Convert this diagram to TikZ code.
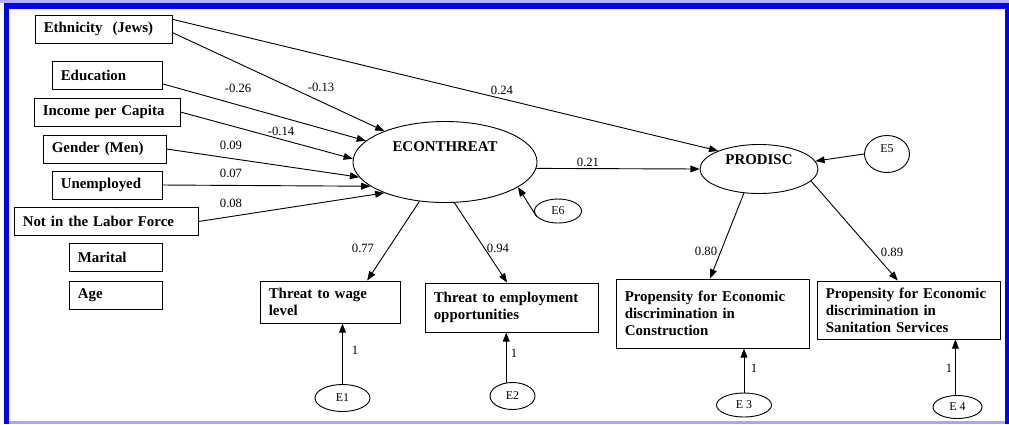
\documentclass[tikz,border=0pt]{standalone}
\usepackage{fontspec}
\setmainfont{Liberation Serif}
\usepackage{tikz}
\usetikzlibrary{arrows.meta, positioning, shapes.geometric}

\begin{document}
\begin{tikzpicture}[x=0.025cm, y=-0.025cm, line width=0.65pt,
    >={Triangle[length=0.23cm, width=0.17cm]}]
    % Default looks of boxes, ovals and coefficients
    \tikzstyle{obs}=[draw, rectangle, align=left, inner xsep=0.22cm, minimum height=0.7cm, font=\fontsize{10.6}{12.2}\selectfont\bfseries];
    \tikzstyle{lat}=[draw, ellipse, inner sep=0pt, font=\fontsize{10.6}{12.2}\selectfont\bfseries];
    \tikzstyle{err}=[draw, ellipse, inner sep=0pt, font=\fontsize{8.5}{10}\selectfont];
    \tikzstyle{coef}=[inner sep=0pt, font=\fontsize{9}{10}\selectfont];

    \useasboundingbox (0,0) rectangle (1009,424);
    % Frame
    \fill[blue!30] (0,0) rectangle (1009,3);
    \fill[blue] (4,3) rectangle (1009,9);
    \fill[blue] (4,3) rectangle (9,424);
    \fill[blue] (1005,3) rectangle (1009,424);
    \fill[blue!35] (9,421) rectangle (1005,424);

    % Define and draw the exogenous variables
    \node[obs, text width=2.985cm] (x1) at (103.5,29) {Ethnicity\ \ (Jews)};
    \node[obs, text width=2.31cm] (x2) at (107,75) {Education};
    \node[obs, text width=3.21cm] (x3) at (107,112) {Income per Capita};
    \node[obs, text width=2.635cm] (x4) at (104.5,149) {Gender (Men)};
    \node[obs, text width=2.31cm] (x5) at (107,185) {Unemployed};
    \node[obs, text width=4.16cm] (x6) at (106,221.5) {Not in the Labor Force};
    \node[obs, text width=1.885cm] (x7) at (115.5,257.5) {Marital};
    \node[obs, text width=1.885cm] (x8) [below=0.225cm of x7] {Age};

    % Latent factors
    \node[lat, minimum width=4.6cm, minimum height=2.025cm, text depth=0.75cm] (f1) at (445,162) {ECONTHREAT};
    \node[lat, minimum width=2.95cm, minimum height=1.225cm, text depth=0.45cm] (f2) at (759,169) {PRODISC};

    % Indicators
    \node[obs, text width=3.06cm, minimum height=1.05cm] (y1) at (330,302) {Threat to wage\\level};
    \node[obs, text width=3.885cm, minimum height=1.225cm] (y2) at (511.5,307.5) {Threat to employment\\opportunities};
    \node[obs, text width=4.385cm, minimum height=1.725cm] (y3) at (712.5,313.5) {Propensity for Economic\\discrimination in\\Construction};
    \node[obs, text width=4.135cm, minimum height=1.45cm] (y4) at (908.5,310) {Propensity for Economic\\discrimination in\\Sanitation Services};

    % Error terms
    \node[err, minimum width=1.375cm, minimum height=0.675cm] (e1) at (342.5,398) {E1};
    \node[err, minimum width=1.125cm, minimum height=0.675cm] (e2) at (512.5,396) {E2};
    \node[err, minimum width=1.375cm, minimum height=0.6cm] (e3) at (744,405) {E 3};
    \node[err, minimum width=1.225cm, minimum height=0.575cm] (e4) at (957.5,407) {E 4};
    \node[err, minimum width=1.125cm, minimum height=0.925cm, text depth=0.25cm] (e5) at (887,154) {E5};
    \node[err, minimum width=1.175cm, minimum height=0.6cm] (e6) at (558,211) {E6};

    % Draw the paths
    \draw[->] (x1.-3) -- (f1.153);
    \draw[->] (x1.8) -- (f2.156);
    \draw[->] (x2.-9) -- (f1.165);
    \draw[->] (x3.east) -- (f1.178);
    \draw[->] (x4.east) -- (f1.190);
    \draw[->] (x5.east) -- (f1.198);
    \draw[->] (x6.east) -- (f1.207);
    \draw[->] (f1.-4) -- (f2.west);
    \draw[->] (e6.195) -- (f1.-19);
    \draw[->] (e5.west) -- (f2.8);
    \draw[->] (f1.237) -- (y1.30);
    \draw[->] (f1.283) -- (y2.100);
    \draw[->] (f2.238) -- (y3.94);
    \draw[->] (f2.347) -- (y4.110);
    \draw[->] (e1.north) -- (e1.north |- y1.south);
    \draw[->] (e2.115) -- (e2.115 |- y2.south);
    \draw[->] (e3.north) -- (e3.north |- y3.south);
    \draw[->] (e4.100) -- (e4.100 |- y4.south);

    % Coefficients
    \node[coef] (c1) at (321,87) {-0.13};
    \node[coef] (c2) at (502,90) {0.24};
    \node[coef] (c3) at (238,88) {-0.26};
    \node[coef] (c4) at (281,131) {-0.14};
    \node[coef] (c5) at (231,145) {0.09};
    \node[coef] (c6) at (231,173) {0.07};
    \node[coef] (c7) at (231,203) {0.08};
    \node[coef] (c8) at (588,162) {0.21};
    \node[coef] (c9) at (363,248) {0.77};
    \node[coef] (c10) at (498,248) {0.94};
    \node[coef] (c11) at (706,251) {0.80};
    \node[coef] (c12) at (892,252) {0.89};
    \node[coef] (c13) at (355,350) {1};
    \node[coef] (c14) at (514,353) {1};
    \node[coef] (c15) at (754,368) {1};
    \node[coef] (c16) at (949,368) {1};
\end{tikzpicture}
\end{document}
